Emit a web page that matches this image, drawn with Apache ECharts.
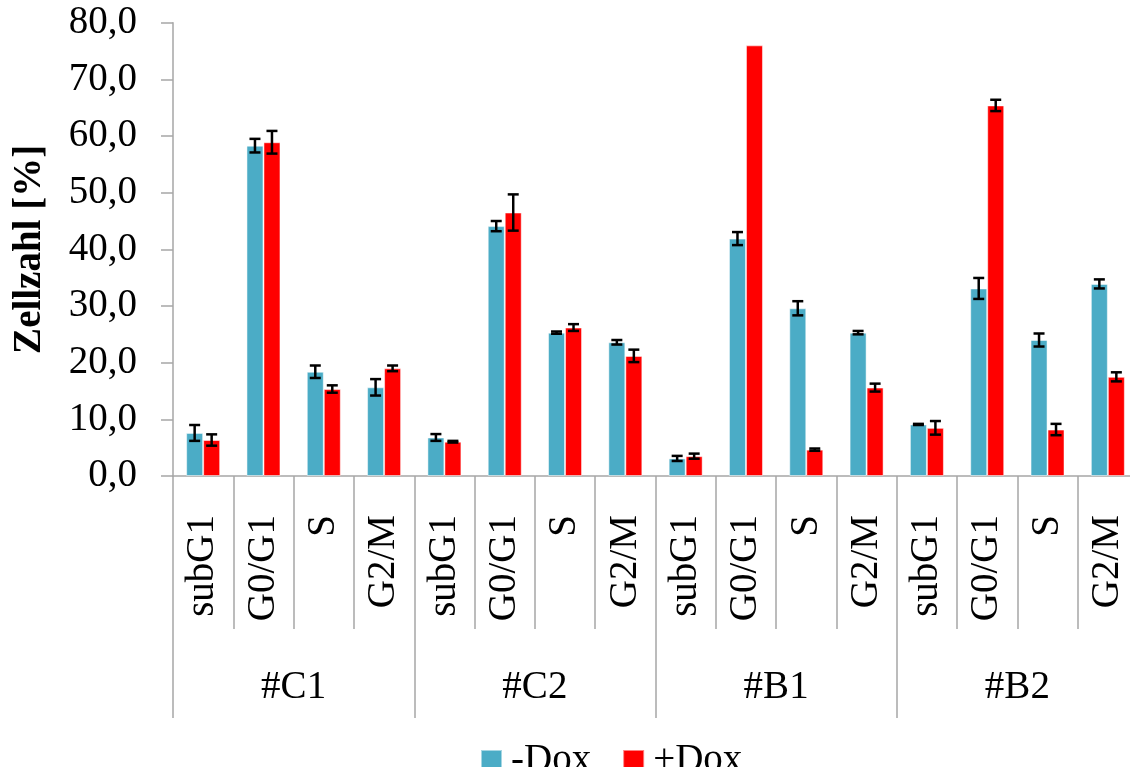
<!DOCTYPE html>
<html>
<head>
<meta charset="utf-8">
<script src="https://cdn.jsdelivr.net/npm/echarts@6/dist/echarts.min.js"></script>
<style>
  html, body { margin: 0; padding: 0; background: #fff; }
  #chart { width: 1130px; height: 767px; }
</style>
</head>
<body>
<div id="chart"></div>
<script>
// ---- data ----
const phases = ['subG1', 'G0/G1', 'S', 'G2/M', 'subG1', 'G0/G1', 'S', 'G2/M', 'subG1', 'G0/G1', 'S', 'G2/M', 'subG1', 'G0/G1', 'S', 'G2/M'];
const groups = ['#C1', '#C2', '#B1', '#B2'];
const seriesNames = ['-Dox', '+Dox'];
const minusDox = [7.6, 58.3, 18.4, 15.65, 6.8, 44.1, 25.3, 23.6, 3.1, 41.9, 29.6, 25.3, 9.1, 33.1, 24.0, 33.9];
const minusErr = [1.4, 1.2, 1.1, 1.45, 0.6, 0.9, 0.2, 0.4, 0.45, 1.15, 1.25, 0.3, 0.1, 1.85, 1.15, 0.8];
const plusDox = [6.35, 58.9, 15.35, 19.0, 6.05, 46.5, 26.2, 21.2, 3.5, 76.0, 4.65, 15.6, 8.5, 65.4, 8.2, 17.5];
const plusErr = [1.0, 2.0, 0.65, 0.5, 0.15, 3.2, 0.6, 1.1, 0.45, 0, 0.2, 0.7, 1.2, 1.0, 1.0, 0.8];
const yTicks = { min: 0, max: 80, interval: 10 };

// ---- style ----
const FONT = 'Liberation Serif';
const BLUE = '#4BACC6';
const RED = '#FF0000';
const GRAY = '#a6a6a6';
const BAR_W = 17;

function errSeries(values, errs, dir) {
  return {
    type: 'custom',
    xAxisIndex: 0,
    yAxisIndex: 0,
    silent: true,
    z: 10,
    data: values.map((v, i) => [i, v, errs[i]]),
    encode: { x: 0, y: 1 },
    renderItem: function (params, api) {
      const idx = api.value(0);
      const v = api.value(1);
      const e = api.value(2);
      if (!e) return null;
      const top = api.coord([idx, v + e]);
      const bot = api.coord([idx, v - e]);
      const x = top[0] + dir * BAR_W / 2;
      const cap = 5.5;
      const st = { stroke: '#000', lineWidth: 2.5 };
      return {
        type: 'group',
        children: [
          { type: 'line', shape: { x1: x, y1: top[1], x2: x, y2: bot[1] }, style: st },
          { type: 'line', shape: { x1: x - cap, y1: top[1], x2: x + cap, y2: top[1] }, style: st },
          { type: 'line', shape: { x1: x - cap, y1: bot[1], x2: x + cap, y2: bot[1] }, style: st }
        ]
      };
    }
  };
}

const chart = echarts.init(document.getElementById('chart'), null, { renderer: 'canvas' });
chart.setOption({
  animation: false,
  backgroundColor: '#fff',
  textStyle: { fontFamily: FONT },
  grid: { left: 173, right: -8, top: 22.7, bottom: 291, containLabel: false, outerBoundsMode: 'none' },
  legend: {
    left: 480,
    top: 741,
    padding: 0,
    itemWidth: 21,
    itemHeight: 21,
    itemGap: 31,
    icon: 'rect',
    data: seriesNames,
    textStyle: { fontFamily: FONT, fontSize: 39, color: '#000', padding: [4, 0, 0, 4] }
  },
  xAxis: [
    {
      type: 'category',
      position: 'bottom',
      data: phases,
      axisLine: { show: true, lineStyle: { color: GRAY, width: 1.5 } },
      axisTick: { show: true, length: 153, interval: 0, lineStyle: { color: GRAY, width: 1.5 } },
      axisLabel: { interval: 0, rotate: 90, margin: 39, fontFamily: FONT, fontSize: 39, color: '#000' }
    },
    {
      type: 'category',
      position: 'bottom',
      data: groups,
      axisLine: { show: false },
      axisTick: { show: true, length: 242, interval: 0, lineStyle: { color: GRAY, width: 1.5 } },
      axisLabel: { interval: 0, margin: 192, fontFamily: FONT, fontSize: 39, color: '#000' }
    }
  ],
  yAxis: {
    type: 'value',
    min: yTicks.min,
    max: yTicks.max,
    interval: yTicks.interval,
    name: 'Zellzahl [%]',
    nameLocation: 'middle',
    nameGap: 124,
    nameTextStyle: { fontFamily: FONT, fontSize: 39, fontWeight: 'bold', color: '#000' },
    splitLine: { show: false },
    axisLine: { show: true, lineStyle: { color: GRAY, width: 1.5 } },
    axisTick: { show: true, length: 12, lineStyle: { color: GRAY, width: 1.5 } },
    axisLabel: {
      margin: 36,
      fontFamily: FONT,
      fontSize: 39,
      color: '#000',
      formatter: v => v.toFixed(1).replace('.', ',')
    }
  },
  series: [
    {
      name: seriesNames[0],
      type: 'bar',
      xAxisIndex: 0,
      data: minusDox,
      barWidth: BAR_W,
      barGap: '0%',
      itemStyle: { color: BLUE, borderColor: 'rgba(255,255,255,0.5)', borderWidth: 1 }
    },
    {
      name: seriesNames[1],
      type: 'bar',
      xAxisIndex: 0,
      data: plusDox,
      barWidth: BAR_W,
      barGap: '0%',
      itemStyle: { color: RED, borderColor: 'rgba(255,255,255,0.5)', borderWidth: 1 }
    },
    errSeries(minusDox, minusErr, -1),
    errSeries(plusDox, plusErr, 1)
  ]
});
</script>
</body>
</html>
